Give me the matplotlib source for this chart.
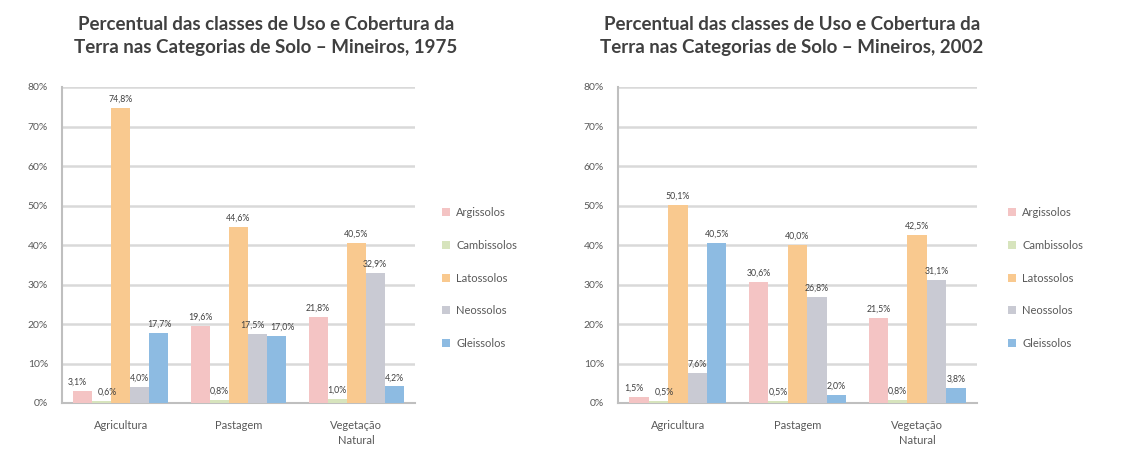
import numpy as np
import matplotlib
matplotlib.use('Agg')
import matplotlib.pyplot as plt

plt.rcParams['font.family'] = ['Lato', 'DejaVu Sans']

# dados: percentual de cada classe de solo por uso/cobertura
categorias = ['Agricultura', 'Pastagem', 'Vegetação\nNatural']
solos = ['Argissolos', 'Cambissolos', 'Latossolos', 'Neossolos', 'Gleissolos']

# 1975 (uma lista por classe de solo, na ordem das categorias)
arg_1975 = [3.1, 19.6, 21.8]
camb_1975 = [0.6, 0.8, 1.0]
lat_1975 = [74.8, 44.6, 40.5]
neo_1975 = [4.0, 17.5, 32.9]
gle_1975 = [17.7, 17.0, 4.2]

# 2002
arg_2002 = [1.5, 30.6, 21.5]
camb_2002 = [0.5, 0.5, 0.8]
lat_2002 = [50.1, 40.0, 42.5]
neo_2002 = [7.6, 26.8, 31.1]
gle_2002 = [40.5, 2.0, 3.8]

titulos = ['Percentual das classes de Uso e Cobertura da\nTerra nas Categorias de Solo \u2013 Mineiros, 1975',
	'Percentual das classes de Uso e Cobertura da\nTerra nas Categorias de Solo \u2013 Mineiros, 2002']

cores = ['#F4C4C4', '#D7E4BD', '#F9C98F', '#C9CAD3', '#8DBBE2']
grid_color = '#D9D9D9'
text_color = '#595959'

W, H = 1125, 468


def fx(px):
	return px / W


def fy(py):
	return 1 - py / H


def painel(fig, rect, series, titulo, title_x, legend_x):
	ax = fig.add_axes(rect)
	x = np.arange(len(categorias))
	bw = 0.162
	dados = np.array(series)  # (solo, categoria)
	for k, nome in enumerate(solos):
		pos = x + (k - 2) * bw
		vals = dados[k]
		ax.bar(pos, vals, width=bw, color=cores[k], label=nome, zorder=3)
		for j, (p, v) in enumerate(zip(pos, vals)):
			# afasta rótulos vizinhos de mesma altura
			dx = 0
			if k > 0 and abs(dados[k - 1, j] - v) < 3:
				dx += 4
			if k < len(solos) - 1 and abs(dados[k + 1, j] - v) < 3:
				dx -= 4
			ax.annotate(('%.1f%%' % v).replace('.', ','), (p, v), xytext=(dx, 3),
				textcoords='offset points', ha='center', va='bottom',
				fontsize=6.3, color='#404040', zorder=4)
	ax.set_xlim(-0.5, len(categorias) - 0.5)
	ax.set_ylim(0, 80)
	ax.set_yticks(np.arange(0, 81, 10))
	ax.set_yticklabels(['%d%%' % t for t in range(0, 81, 10)])
	ax.set_xticks(x)
	ax.set_xticklabels(categorias, linespacing=1.5)
	ax.grid(axis='y', color=grid_color, linewidth=1.8, zorder=0)
	for s in ['top', 'right']:
		ax.spines[s].set_visible(False)
	for s in ['left', 'bottom']:
		ax.spines[s].set_color('#BFBFBF')
		ax.spines[s].set_linewidth(1.5)
	ax.tick_params(axis='y', length=0, labelsize=7.5, colors=text_color, pad=10)
	ax.tick_params(axis='x', length=0, labelsize=8, colors=text_color, pad=12)
	fig.text(title_x, fy(36), titulo, ha='center', va='center', fontsize=13.5,
		fontweight='bold', color='#404040', linespacing=1.45)
	ax.legend(loc='center left', bbox_to_anchor=(legend_x, fy(278)),
		bbox_transform=fig.transFigure, frameon=False, fontsize=8,
		handlelength=0.7, handleheight=0.7, handletextpad=0.6,
		labelspacing=1.95, labelcolor=text_color)
	return ax


fig = plt.figure(figsize=(W / 100, H / 100), dpi=100)

top, bottom = 87, 403
painel(fig, [fx(62), fy(bottom), fx(415 - 62), (bottom - top) / H],
	[arg_1975, camb_1975, lat_1975, neo_1975, gle_1975], titulos[0], fx(266), fx(432))
painel(fig, [fx(618), fy(bottom), fx(977 - 618), (bottom - top) / H],
	[arg_2002, camb_2002, lat_2002, neo_2002, gle_2002], titulos[1], fx(792), fx(998))

fig.savefig('out.png', dpi=100)
